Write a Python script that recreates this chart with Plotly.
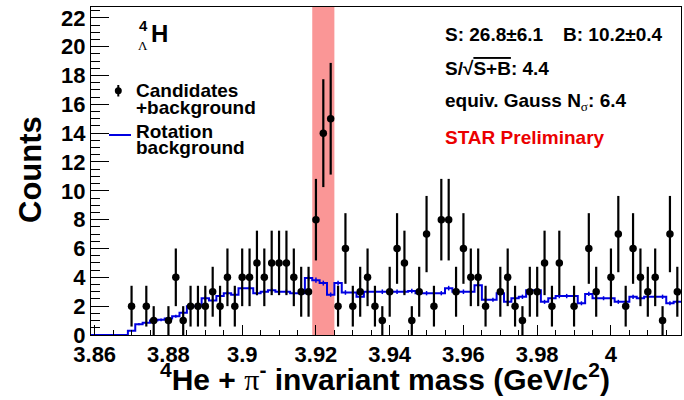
import numpy as np
import plotly.graph_objects as go

# ---------------------------------------------------------------------------
# 4He + pi- invariant-mass histogram, 2 MeV/c^2 bins
# ---------------------------------------------------------------------------
mass_min = 3.859   # lower edge of first bin (GeV/c^2)
mass_max = 4.019   # upper edge of last bin
bin_width = 0.002

# same-event candidates (+ background), counts per bin
candidate_counts = [
    0, 0, 0, 0, 0,   2, 0, 2, 1, 0,
    1, 4, 1, 2, 2,   2, 3, 2, 4, 2,
    4, 4, 5, 4, 5,   5, 5, 4, 3, 3,
    8, 14, 15, 2, 6, 2, 3, 4, 2, 1,
    3, 6, 5, 1, 3,   7, 2, 8, 8, 3,
    6, 4, 4, 2, 0,   3, 4, 2, 1, 3,
    3, 5, 2, 5, 0,   2, 0, 6, 3, 0,
    4, 7, 2, 6, 4,   3, 4, 1, 7, 3,
]

# normalised rotation background, per bin
rotation_bkg = [
    0.0, 0.0, 0.0, 0.0, 0.0,    0.3, 0.75, 0.85, 1.0, 1.05,
    1.15, 1.3, 1.55, 2.0, 2.0,  2.55, 2.4, 2.7, 2.9, 2.8,
    3.25, 3.25, 2.9, 3.0, 3.1,  3.0, 3.0, 2.9, 2.9, 3.95,
    3.8, 3.6, 2.8, 3.6, 2.95,   2.95, 2.65, 3.0, 3.0, 3.0,
    3.0, 3.0, 3.0, 3.05, 2.9,   2.9, 2.9, 2.9, 3.25, 3.0,
    3.0, 3.0, 3.45, 2.45, 2.45, 2.9, 2.3, 2.55, 2.65, 3.1,
    3.1, 2.3, 2.55, 2.7, 2.7,   2.7, 2.2, 2.85, 2.55, 2.55,
    2.55, 2.3, 2.3, 2.65, 2.55, 2.65, 2.65, 2.65, 2.2, 2.3,
]
rotation_bkg_err = [
    0.0, 0.0, 0.0, 0.0, 0.0,    0.05, 0.08, 0.08, 0.1, 0.1,
    0.1, 0.1, 0.11, 0.13, 0.13, 0.14, 0.14, 0.15, 0.15, 0.15,
    0.16, 0.16, 0.15, 0.16, 0.16, 0.16, 0.16, 0.15, 0.15, 0.18,
    0.18, 0.17, 0.15, 0.17, 0.16, 0.16, 0.15, 0.16, 0.16, 0.16,
    0.16, 0.16, 0.16, 0.16, 0.15, 0.15, 0.15, 0.15, 0.16, 0.16,
    0.16, 0.16, 0.17, 0.14, 0.14, 0.15, 0.14, 0.14, 0.15, 0.16,
    0.16, 0.14, 0.14, 0.15, 0.15, 0.15, 0.14, 0.15, 0.14, 0.14,
    0.14, 0.14, 0.14, 0.15, 0.14, 0.15, 0.15, 0.15, 0.14, 0.14,
]

# invariant-mass window used for the signal count
signal_window = (3.919, 3.925)

x_tick_vals = [3.86, 3.88, 3.90, 3.92, 3.94, 3.96, 3.98, 4.00]
x_tick_text = ["3.86", "3.88", "3.9", "3.92", "3.94", "3.96", "3.98", "4"]
y_tick_vals = [0, 2, 4, 6, 8, 10, 12, 14, 16, 18, 20, 22]
y_max = 22.75

# ---------------------------------------------------------------------------
counts = np.array(candidate_counts, dtype=float)
bkg = np.array(rotation_bkg)
bkg_err = np.array(rotation_bkg_err)
n_bins = len(counts)
edges = mass_min + bin_width * np.arange(n_bins + 1)
centers = 0.5 * (edges[:-1] + edges[1:])

filled = counts > 0
has_bkg = bkg > 0

FONT = "Liberation Sans"
BLUE = "rgb(0,0,225)"
RED_TEXT = "rgb(235,0,0)"
BAND = "rgb(250,150,150)"

fig = go.Figure()

# rotation background: step histogram
fig.add_trace(go.Scatter(
    x=edges, y=np.append(bkg, bkg[-1]),
    mode="lines", line=dict(color=BLUE, width=2, shape="hv"),
    showlegend=False, hoverinfo="skip",
))
# small error ticks on the background
fig.add_trace(go.Scatter(
    x=centers[has_bkg], y=bkg[has_bkg], mode="markers",
    marker=dict(size=1, color=BLUE),
    error_y=dict(type="data", array=bkg_err[has_bkg], width=0,
                 thickness=1.5, color=BLUE),
    showlegend=False, hoverinfo="skip",
))
# candidates with Poisson errors
fig.add_trace(go.Scatter(
    x=centers[filled], y=counts[filled], mode="markers",
    marker=dict(size=7.5, color="black"),
    error_y=dict(type="data", array=np.sqrt(counts[filled]), width=0,
                 thickness=2.2, color="black"),
    showlegend=False,
))

# plot-area geometry in pixels (for text placement)
W, H = 684, 400
L, R, T, B = 91, 681, 7, 335


def fx(px):
    return (px - L) / (R - L)


def fy(py):
    return (B - py) / (B - T)


shapes = [
    dict(type="rect", xref="x", yref="paper",
         x0=signal_window[0], x1=signal_window[1], y0=0, y1=1,
         fillcolor=BAND, line=dict(width=0), layer="below"),
    # legend glyphs
    dict(type="line", xref="paper", yref="paper",
         x0=fx(118.3), x1=fx(118.3), y0=fy(85), y1=fy(96.5),
         line=dict(color="black", width=2)),
    dict(type="circle", xref="paper", yref="paper",
         x0=fx(114.8), x1=fx(121.8), y0=fy(87.2), y1=fy(94.2),
         fillcolor="black", line=dict(color="black", width=0)),
    dict(type="line", xref="paper", yref="paper",
         x0=fx(109), x1=fx(131), y0=fy(135), y1=fy(135),
         line=dict(color=BLUE, width=2)),
]


def label(text, px, py, size, color="black", xanchor="left",
          weight="bold", family=FONT, angle=0):
    return dict(text=text, x=fx(px), y=fy(py), xref="paper", yref="paper",
                xanchor=xanchor, yanchor="middle", showarrow=False,
                textangle=angle,
                font=dict(family=family, size=size, color=color,
                          weight=weight))


serif = "font-family:'Liberation Serif';font-weight:normal"
annotations = [
    # axis titles
    label("Counts", 30, 170, 31, xanchor="center", angle=-90),
    label("<sup>4</sup>He + <span style=\"%s\">π</span><sup>-</sup> "
          "invariant mass (GeV/c<sup>2</sup>)" % serif,
          385, 377, 30, xanchor="center"),
    # hypernucleus symbol
    label("4", 137, 25, 15),
    label("Λ", 135.5, 45.5, 13, weight="normal", family="Liberation Serif"),
    label("H", 149, 33.5, 24),
    # legend text
    label("Candidates", 134, 90.7, 19),
    label("+background", 134, 107.4, 19),
    label("Rotation", 134, 131, 19),
    label("background", 134, 147.7, 19),
    # fit summary
    label("S: 26.8±6.1", 443, 35, 19),
    label("B: 10.2±0.4", 560.5, 35, 19),
    label("S/√<span style=\"text-decoration:overline\">S+B</span>: 4.4",
          443, 68.3, 19),
    label("equiv. Gauss N<sub><span style=\"%s\">σ</span></sub>: 6.4" % serif,
          443, 102, 19),
    label("STAR Preliminary", 443, 137.7, 19, color=RED_TEXT),
]

tick_font = dict(family=FONT, size=22, color="black", weight="bold")

fig.update_layout(
    width=W, height=H,
    margin=dict(l=L, r=W - R, t=T, b=H - B, pad=0),
    paper_bgcolor="white", plot_bgcolor="white",
    shapes=shapes, annotations=annotations,
    xaxis=dict(
        range=[mass_min, mass_max],
        tickmode="array", tickvals=x_tick_vals, ticktext=x_tick_text,
        ticks="inside", ticklen=10, tickwidth=1, tickcolor="black",
        minor=dict(tickmode="linear", tick0=3.86, dtick=0.005,
                   ticks="inside", ticklen=5, tickwidth=1,
                   tickcolor="black"),
        showline=True, linecolor="black", linewidth=1, mirror=True,
        showgrid=False, zeroline=False, tickfont=tick_font,
    ),
    yaxis=dict(
        range=[0, y_max],
        tickmode="array", tickvals=y_tick_vals,
        ticks="inside", ticklen=18, tickwidth=1, tickcolor="black",
        minor=dict(tickmode="linear", tick0=0, dtick=0.5,
                   ticks="inside", ticklen=9, tickwidth=1,
                   tickcolor="black"),
        showline=True, linecolor="black", linewidth=1, mirror=True,
        showgrid=False, zeroline=False, tickfont=tick_font,
    ),
)

fig.write_html("out.html")
